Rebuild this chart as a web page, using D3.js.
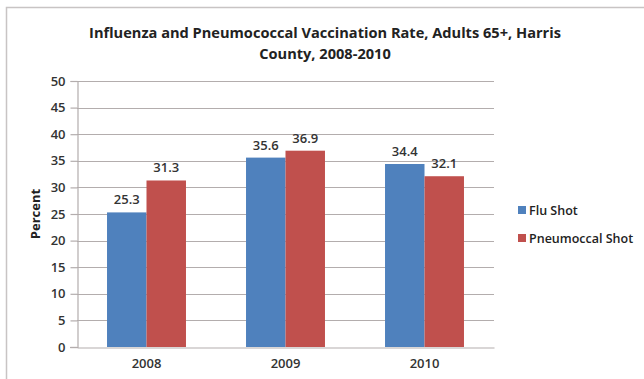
<!DOCTYPE html>
<html><head><meta charset="utf-8">
<script src="https://cdn.jsdelivr.net/npm/d3@7"></script>
<style>
html,body{margin:0;padding:0;background:#fff;}
svg{display:block;}
text{font-family:"Open Sans","Liberation Sans",sans-serif;}
</style></head>
<body>
<svg id="chart" width="644" height="379"></svg>
<script>
const categories = ["2008", "2009", "2010"];
const seriesNames = ["Flu Shot", "Pneumoccal Shot"];
const fluShot = [25.3, 35.6, 34.4];
const pneumoShot = [31.3, 36.9, 32.1];
const yTicks = [0, 5, 10, 15, 20, 25, 30, 35, 40, 45, 50];
const colors = ["#4f81bd", "#c0504d"];

const svg = d3.select("#chart");
// outer chart frame
svg.append("rect").attr("x", 6.5).attr("y", 7.5).attr("width", 700).attr("height", 400)
  .attr("fill", "none").attr("stroke", "#c8c4c4").attr("stroke-width", 1.5);

const pLeft = 77, pRight = 494, pTop = 81, pBottom = 347;
const x = d3.scaleBand().domain(categories).range([pLeft, pRight]).paddingInner(0.432).paddingOuter(0.216);
const x1 = d3.scaleBand().domain(seriesNames).range([0, x.bandwidth()]);
const y = d3.scaleLinear().domain([0, 50]).range([pBottom, pTop]);

// gridlines
svg.append("g").selectAll("line").data(yTicks.filter(d => d > 0)).join("line")
  .attr("x1", pLeft).attr("x2", pRight)
  .attr("y1", d => Math.round(y(d)) + 0.5).attr("y2", d => Math.round(y(d)) + 0.5)
  .attr("stroke", "#b3adad").attr("stroke-width", 1.2);

// y axis
const yAxis = svg.append("g").attr("transform", `translate(${pLeft + 0.5},0)`)
  .call(d3.axisLeft(y).tickValues(yTicks).tickSize(7).tickPadding(5).tickFormat(d3.format("d")));
yAxis.select(".domain").attr("stroke", "#b3adad").attr("stroke-width", 1.2);
yAxis.selectAll(".tick line").attr("stroke", "#b3adad").attr("stroke-width", 1.2);
yAxis.selectAll(".tick text").attr("fill", "#333").style("font-size", "13px").style("font-weight", "600");

// bars
const data = categories.map((c, i) => ({cat: c, vals: [fluShot[i], pneumoShot[i]]}));
const groups = svg.append("g").selectAll("g").data(data).join("g")
  .attr("transform", d => `translate(${x(d.cat)},0)`);
groups.selectAll("rect").data(d => d.vals.map((v, j) => ({v, s: seriesNames[j], j}))).join("rect")
  .attr("x", d => x1(d.s)).attr("width", x1.bandwidth())
  .attr("y", d => y(d.v)).attr("height", d => y(0) - y(d.v))
  .attr("fill", d => colors[d.j]);
groups.selectAll("text").data(d => d.vals.map((v, j) => ({v, s: seriesNames[j], j}))).join("text")
  .attr("x", d => x1(d.s) + x1.bandwidth() / 2).attr("y", d => y(d.v) - 8)
  .attr("text-anchor", "middle").attr("fill", "#333")
  .style("font-size", "13px").style("font-weight", "600")
  .text(d => d3.format(".1f")(d.v));

// x axis
const xAxis = svg.append("g").attr("transform", `translate(0,${pBottom + 0.5})`)
  .call(d3.axisBottom(x).tickSize(0).tickPadding(11));
xAxis.select(".domain").attr("stroke", "#b3adad").attr("stroke-width", 1.2);
xAxis.selectAll(".tick text").attr("fill", "#333").style("font-size", "13px").style("font-weight", "600");
svg.append("line").attr("x1", pLeft - 7).attr("x2", pLeft).attr("y1", pBottom + 0.5).attr("y2", pBottom + 0.5)
  .attr("stroke", "#b3adad").attr("stroke-width", 1.2);

// y title
svg.append("text").attr("transform", `translate(40,${(pTop + pBottom) / 2}) rotate(-90)`)
  .attr("text-anchor", "middle").attr("fill", "#222")
  .style("font-size", "13px").style("font-weight", "bold").text("Percent");

// title
const title = svg.append("text").attr("x", 325).attr("text-anchor", "middle").attr("fill", "#222")
  .style("font-size", "14.6px").style("font-weight", "bold");
title.append("tspan").attr("x", 325).attr("y", 38).text("Influenza and Pneumococcal Vaccination Rate, Adults 65+, Harris");
title.append("tspan").attr("x", 325).attr("y", 59).text("County, 2008-2010");

// legend
const legend = svg.append("g").selectAll("g").data(seriesNames).join("g")
  .attr("transform", (d, i) => `translate(518,${210 + i * 28})`);
legend.append("rect").attr("x", 0).attr("y", -4).attr("width", 8).attr("height", 8)
  .attr("fill", (d, i) => colors[i]);
legend.append("text").attr("x", 11).attr("y", 4.5).attr("fill", "#222")
  .style("font-size", "12.5px").style("font-weight", "600").text(d => d);
</script>
</body></html>
